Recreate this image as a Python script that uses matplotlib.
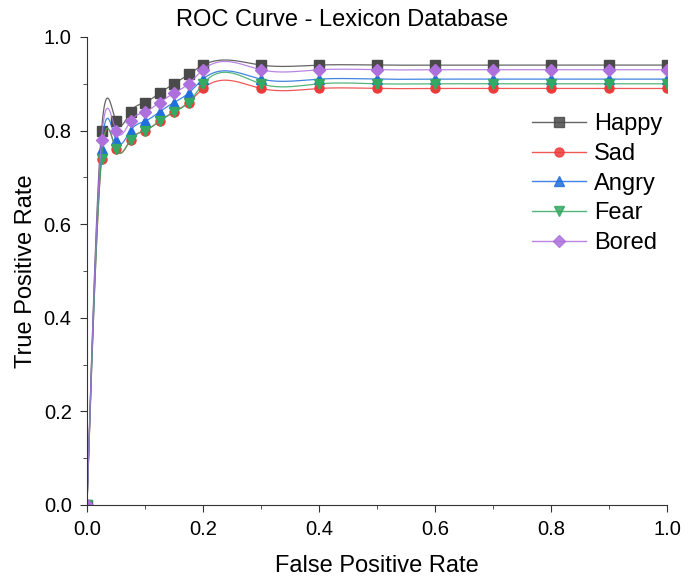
import numpy as np
import matplotlib
matplotlib.use("Agg")
import matplotlib.pyplot as plt
from matplotlib.ticker import MultipleLocator

plt.rcParams['font.family'] = ['Liberation Sans', 'DejaVu Sans']

fpr = [0, 0.025, 0.05, 0.075, 0.1, 0.125, 0.15, 0.175, 0.2,
       0.3, 0.4, 0.5, 0.6, 0.7, 0.8, 0.9, 1.0]
happy = [0, 0.80, 0.82, 0.84, 0.86, 0.88, 0.90, 0.92, 0.94,
         0.94, 0.94, 0.94, 0.94, 0.94, 0.94, 0.94, 0.94]
sad = [0, 0.74, 0.76, 0.78, 0.80, 0.82, 0.84, 0.86, 0.89,
       0.89, 0.89, 0.89, 0.89, 0.89, 0.89, 0.89, 0.89]
angry = [0, 0.76, 0.78, 0.80, 0.82, 0.84, 0.86, 0.88, 0.91,
         0.91, 0.91, 0.91, 0.91, 0.91, 0.91, 0.91, 0.91]
fear = [0, 0.74, 0.76, 0.78, 0.80, 0.82, 0.84, 0.86, 0.90,
        0.90, 0.90, 0.90, 0.90, 0.90, 0.90, 0.90, 0.90]
bored = [0, 0.78, 0.80, 0.82, 0.84, 0.86, 0.88, 0.90, 0.93,
         0.93, 0.93, 0.93, 0.93, 0.93, 0.93, 0.93, 0.93]

series = [("Happy", happy, '#4a4a4a', 's'),
          ("Sad", sad, '#ef3a3a', 'o'),
          ("Angry", angry, '#1f6fdd', '^'),
          ("Fear", fear, '#35a862', 'v'),
          ("Bored", bored, '#ad70dd', 'D')]


def natural_spline(x, y, n=2000):
    # natural cubic spline, like origin's spline connection
    x = np.asarray(x, float)
    y = np.asarray(y, float)
    k = len(x)
    h = np.diff(x)
    A = np.zeros((k, k))
    b = np.zeros(k)
    A[0, 0] = 1
    A[-1, -1] = 1
    for i in range(1, k - 1):
        A[i, i - 1] = h[i - 1]
        A[i, i] = 2 * (h[i - 1] + h[i])
        A[i, i + 1] = h[i]
        b[i] = 3 * ((y[i + 1] - y[i]) / h[i] - (y[i] - y[i - 1]) / h[i - 1])
    c = np.linalg.solve(A, b)
    xs = np.linspace(x[0], x[-1], n)
    idx = np.clip(np.searchsorted(x, xs) - 1, 0, k - 2)
    dx = xs - x[idx]
    bb = (y[idx + 1] - y[idx]) / h[idx] - h[idx] * (2 * c[idx] + c[idx + 1]) / 3
    d = (c[idx + 1] - c[idx]) / (3 * h[idx])
    ys = y[idx] + bb * dx + c[idx] * dx ** 2 + d * dx ** 3
    return xs, ys


W, H = 697, 578
fig = plt.figure(figsize=(W / 100, H / 100), dpi=100)
ax = fig.add_axes([87 / W, 1 - 505 / H, 580 / W, 468 / H])

for name, vals, col, mk in series:
    ms = 7 if mk in '^v' else 6.5
    xs, ys = natural_spline(fpr, vals)
    ax.plot(xs, ys, color=col, lw=0.9, alpha=0.85)
    ax.plot(fpr, vals, linestyle='none', marker=mk, color=col, ms=ms)
    ax.plot([], [], color=col, lw=1.0, alpha=0.85, marker=mk, ms=ms,
            markerfacecolor=col, markeredgecolor=col, label=name)

ax.set_xlim(0, 1)
ax.set_ylim(0, 1)
ax.xaxis.set_major_locator(MultipleLocator(0.2))
ax.xaxis.set_minor_locator(MultipleLocator(0.1))
ax.yaxis.set_major_locator(MultipleLocator(0.2))
ax.yaxis.set_minor_locator(MultipleLocator(0.1))
ax.spines['top'].set_visible(False)
ax.spines['right'].set_visible(False)
for s in ('left', 'bottom'):
    ax.spines[s].set_color('#333333')
ax.tick_params(which='major', direction='out', length=5, pad=6,
               labelsize=14.5, color='#333333')
ax.tick_params(which='minor', direction='out', length=3, color='#333333')

ax.set_xlabel('False Positive Rate', fontsize=17)
ax.xaxis.set_label_coords(0.5, -(572 - 505) / 468)
ax.xaxis.label.set_va('baseline')
ax.set_ylabel('True Positive Rate', fontsize=17)
ax.yaxis.set_label_coords(-(87 - 37) / 580, 0.5)

fig.text(342 / W, 1 - 26 / H, 'ROC Curve - Lexicon Database',
         fontsize=17, ha='center', va='baseline')

ax.legend(loc='upper left', bbox_to_anchor=(532 / W, 1 - 113 / H),
          bbox_transform=fig.transFigure, frameon=False, borderpad=0,
          borderaxespad=0, fontsize=17, handlelength=2.3,
          handletextpad=0.34, labelspacing=0.33)

fig.savefig('out.png', dpi=100)
